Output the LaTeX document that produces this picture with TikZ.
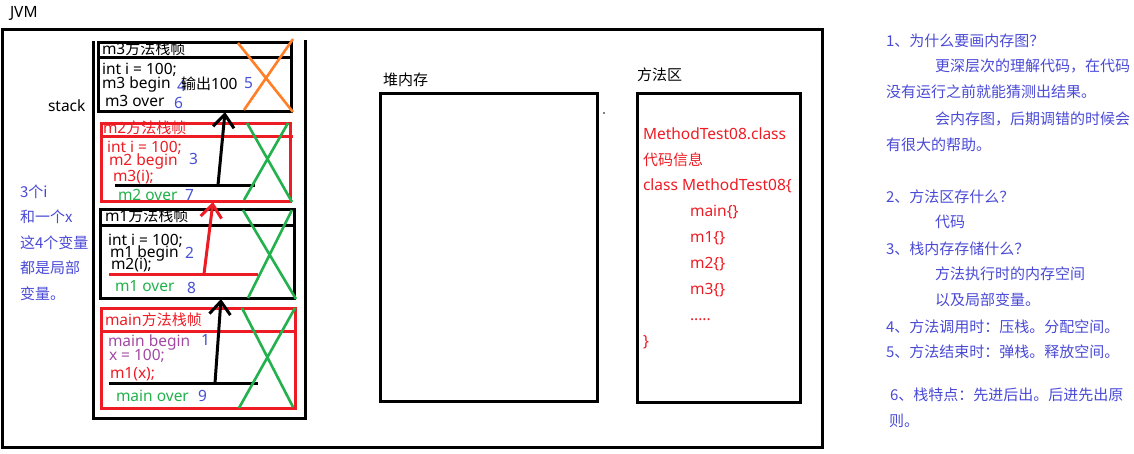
\documentclass[tikz,border=0pt]{standalone}
\usepackage{fontspec}
\setmainfont{Noto Sans}
\newfontfamily\cjk[Scale=0.968]{Noto Sans CJK SC}
\usetikzlibrary{arrows.meta}
\definecolor{pred}{HTML}{ED1C24}
\definecolor{pgreen}{HTML}{22B14C}
\definecolor{porange}{HTML}{FF7F27}
\definecolor{pnum}{HTML}{4650D4}
\definecolor{ppurple}{HTML}{A349A4}
\definecolor{pnote}{HTML}{4A4AD6}
\begin{document}
\begin{tikzpicture}[x=1pt,y=-1pt,
  txt/.style={anchor=base west, inner sep=0pt, outer sep=0pt, font=\fontsize{15.5}{18}\selectfont},
  frame/.style={draw, line width=3pt, inner sep=0pt, outer sep=0pt, anchor=north west},
  fline/.style={line width=3pt},
  xline/.style={line width=2.6pt},
  callarrow/.style={line width=3pt, -{Straight Barb[length=13pt,width=21pt]}}]
\useasboundingbox (0,0) rectangle (1134,453);
% JVM outer box
\node[frame, minimum width=820pt, minimum height=418pt] (jvm) at (2,29.5) {};
\node[txt] (jvmlabel) at (10,17) {JVM};
% stack
\draw[fline] (93,41) -- (93,418.5) -- (305,418.5) -- (305,40);
\node[txt] (stacklabel) at (48,111) {stack};
% frames
\node[frame, minimum width=193pt, minimum height=69pt] (f3) at (98.5,42.5) {};
\draw[fline] (98.5,57.5) -- (291.5,57.5);
\node[frame, draw=pred, minimum width=189pt, minimum height=78.5pt] (f2) at (101,123) {};
\draw[fline, pred] (101,136) -- (292.5,136);
\node[frame, minimum width=193.5pt, minimum height=88.5pt] (f1) at (100.5,209.5) {};
\draw[fline] (100.5,225) -- (294,225);
\node[frame, draw=pred, minimum width=194.5pt, minimum height=100pt] (f0) at (101,308) {};
\draw[fline, pred] (101,331) -- (295.5,331);
% call lines
\draw[fline] (115,185) -- (255,185);
\draw[fline, pred] (109,274) -- (258,274);
\draw[fline] (109,383) -- (258,383);
% crosses
\draw[xline, porange] (238,43) -- (293,112) (293,39) -- (244,110);
\draw[xline, pgreen] (247,123) -- (292,202) (288,123) -- (244,200);
\draw[xline, pgreen] (243,210) -- (296,299) (292,210) -- (248,298);
\draw[xline, pgreen] (242,308) -- (293,407) (295,308) -- (239,408);
% arrows
\coordinate (s0) at (215,383);
\coordinate (e0) at (221,299);
\coordinate (s1) at (204,274);
\coordinate (e1) at (213,202);
\coordinate (s2) at (218,185);
\coordinate (e2) at (225,112);
\draw[callarrow] (s0) -- (e0);
\draw[callarrow, pred] (s1) -- (e1);
\draw[callarrow] (s2) -- (e2);
% m3 texts
\node[txt] (m3h) at (102,54) {m3{\cjk 方法栈帧}};
\node[txt] (m3a) at (102,74) {int i = 100;};
\node[txt] (m3b) at (102,88) {m3 begin};
\node[txt, pnum] (n4) at (177,91) {4};
\node[txt] (m3out) at (181,89) {{\cjk 输出}100};
\node[txt, pnum] (n5) at (244,88) {5};
\node[txt] (m3c) at (105,106) {m3 over};
\node[txt, pnum] (n6) at (174,108) {6};
% m2 texts
\node[txt, pred] (m2h) at (103,133) {m2{\cjk 方法栈帧}};
\node[txt, pred] (m2a) at (107,152) {int i = 100;};
\node[txt, pred] (m2b) at (109,165) {m2 begin};
\node[txt, pnum] (n3) at (189,164) {3};
\node[txt, pred] (m2c) at (113,181) {m3(i);};
\node[txt, pgreen] (m2d) at (118,200) {m2 over};
\node[txt, pnum] (n7) at (185,200) {7};
% m1 texts
\node[txt] (m1h) at (105,221) {m1{\cjk 方法栈帧}};
\node[txt] (m1a) at (108,245) {int i = 100;};
\node[txt] (m1b) at (110,257) {m1 begin};
\node[txt, pnum] (n2) at (185,258) {2};
\node[txt] (m1c) at (111,269) {m2(i);};
\node[txt, pgreen] (m1d) at (115,291) {m1 over};
\node[txt, pnum] (n8) at (187,293) {8};
% main texts
\node[txt, pred] (mnh) at (105,325) {main{\cjk 方法栈帧}};
\node[txt, ppurple] (mna) at (108,346) {main begin};
\node[txt, pnum] (n1) at (201,345) {1};
\node[txt, ppurple] (mnb) at (109,360) {x = 100;};
\node[txt, pred] (mnc) at (110,378) {m1(x);};
\node[txt, pgreen] (mnd) at (116,401) {main over};
\node[txt, pnum] (n9) at (198,401) {9};
% left notes
\begin{scope}[every node/.style={txt, pnote, font=\fontsize{15.5}{18}\selectfont\cjk}]
\node (l1) at (20,197.5) {3个i};
\node (l2) at (20,222.5) {和一个x};
\node (l3) at (20,248.5) {这4个变量};
\node (l4) at (20,273.5) {都是局部};
\node (l5) at (20,299.5) {变量。};
\end{scope}
% heap
\node[frame, minimum width=217pt, minimum height=308.5pt] (heap) at (380.5,93) {};
\node[txt, font=\fontsize{15.5}{18}\selectfont\cjk] (heaplabel) at (383,85.5) {堆内存};
\fill (604,113) circle (0.9pt);
% method area
\node[frame, minimum width=163pt, minimum height=309pt] (marea) at (637.5,93) {};
\node[txt, font=\fontsize{15.5}{18}\selectfont\cjk] (marealabel) at (637,80.5) {方法区};
\begin{scope}[every node/.style={txt, pred}]
\node (c1) at (643,139.5) {MethodTest08.class};
\node[font=\fontsize{15.5}{18}\selectfont\cjk] (c2) at (643,165) {代码信息};
\node (c3) at (643,190.5) {class MethodTest08\{};
\node (c4) at (690,216.5) {main\{\}};
\node (c5) at (690,242.5) {m1\{\}};
\node (c6) at (690,268.5) {m2\{\}};
\node (c7) at (690,294) {m3\{\}};
\node (c8) at (690,320.5) {.....};
\node (c9) at (643,346) {\}};
\end{scope}
% right notes
\begin{scope}[every node/.style={txt, pnote, font=\fontsize{15.5}{18}\selectfont\cjk}]
\node (r1) at (886,46.5) {1、为什么要画内存图？};
\node (r2) at (935,71.5) {更深层次的理解代码，在代码};
\node (r3) at (886,97.5) {没有运行之前就能猜测出结果。};
\node (r4) at (935,124.5) {会内存图，后期调错的时候会};
\node (r5) at (886,150.5) {有很大的帮助。};
\node (r6) at (886,202) {2、方法区存什么？};
\node (r7) at (935,227.5) {代码};
\node (r8) at (886,254.5) {3、栈内存存储什么？};
\node (r9) at (935,279.5) {方法执行时的内存空间};
\node (r10) at (935,305.5) {以及局部变量。};
\node (r11) at (886,332) {4、方法调用时：压栈。分配空间。};
\node (r12) at (886,357.5) {5、方法结束时：弹栈。释放空间。};
\node (r13) at (890,400.5) {6、栈特点：先进后出。后进先出原};
\node (r14) at (889,426) {则。};
\end{scope}
\end{tikzpicture}
\end{document}
